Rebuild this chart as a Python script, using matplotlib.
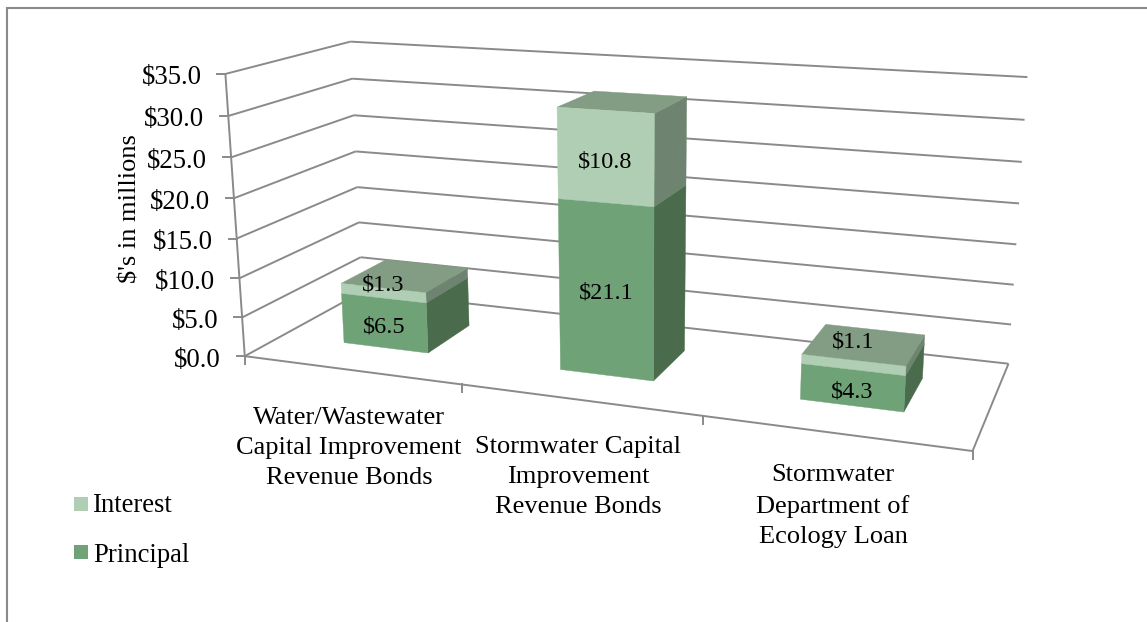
import numpy as np
import matplotlib
matplotlib.use("Agg")
import matplotlib.pyplot as plt
from matplotlib.patches import Polygon, Rectangle

plt.rcParams['font.family'] = ['Liberation Serif', 'DejaVu Serif']

categories = ["Water/Wastewater\nCapital Improvement\nRevenue Bonds",
              "Stormwater Capital\nImprovement\nRevenue Bonds",
              "Stormwater\nDepartment of\nEcology Loan"]
principal = [6.5, 21.1, 4.3]
interest = [1.3, 10.8, 1.1]
y_ticks = [0, 5, 10, 15, 20, 25, 30, 35]

GREY = '#8a8a8a'
PRINCIPAL = {'front': '#6fa377', 'side': '#4a6b4c', 'top': '#5f8a64'}
INTEREST = {'front': '#b0ceb3', 'side': '#6e8370', 'top': '#839c84'}

# pixel positions of the chart box corners, used to work out the perspective
world = [(0, 0, 0), (0, 0, 35), (3, 0, 0),
         (0, 1, 35), (0, 1, 30), (0, 1, 25), (0, 1, 20), (0, 1, 15), (0, 1, 10), (0, 1, 5), (0, 1, 0),
         (3, 1, 35), (3, 1, 30), (3, 1, 25), (3, 1, 20), (3, 1, 15), (3, 1, 10), (3, 1, 5), (3, 1, 0)]
pixels = [(244.7, 356), (225.7, 73.5), (972.3, 451.7),
          (350, 41.7), (351.7, 78.7), (354, 115.3), (356, 151.7), (357.3, 187), (359.3, 222.3),
          (360.7, 257.3), (362, 292),
          (1027.3, 77.3), (1024.5, 120), (1022, 162), (1019, 203.5), (1016.5, 244), (1014, 284.3),
          (1011, 324), (1008.3, 363.7)]


def fit_camera(world, pixels):
    rows, rhs = [], []
    for (x, y, z), (u, v) in zip(world, pixels):
        rows.append([x, y, z, 1, 0, 0, 0, 0, -u * x, -u * y, -u * z])
        rows.append([0, 0, 0, 0, x, y, z, 1, -v * x, -v * y, -v * z])
        rhs += [u, v]
    sol = np.linalg.lstsq(np.array(rows, dtype=float), np.array(rhs, dtype=float), rcond=None)[0]
    return np.append(sol, 1).reshape(3, 4)


CAM = fit_camera(world, pixels)


def project(x, y, z):
    p = CAM @ np.array([x, y, z, 1.0])
    return p[0] / p[2], p[1] / p[2]


def line3d(ax, a, b, **kw):
    pa, pb = project(*a), project(*b)
    ax.plot([pa[0], pb[0]], [pa[1], pb[1]], color=GREY, lw=1.4, solid_capstyle='butt', **kw)


def box(ax, x0, x1, y0, y1, z0, z1, colors, zorder):
    faces = {
        'side': [(x1, y0, z0), (x1, y1, z0), (x1, y1, z1), (x1, y0, z1)],
        'top': [(x0, y0, z1), (x1, y0, z1), (x1, y1, z1), (x0, y1, z1)],
        'front': [(x0, y0, z0), (x1, y0, z0), (x1, y0, z1), (x0, y0, z1)],
    }
    for name, pts in faces.items():
        ax.add_patch(Polygon([project(*p) for p in pts], closed=True, fc=colors[name],
                             ec=colors[name], lw=0.3, zorder=zorder))


fig = plt.figure(figsize=(11.47, 6.22), dpi=100)
ax = fig.add_axes([0, 0, 1, 1])
ax.set_xlim(0, 1147)
ax.set_ylim(622, 0)
ax.axis('off')

# chart border, only the left and top edges fall inside the picture
ax.plot([6.5, 6.5, 1147], [622, 7.5, 7.5], color=GREY, lw=1.5, solid_joinstyle='miter')

# walls and floor
for t in y_ticks:
    line3d(ax, (0, 0, t), (0, 1, t))
    line3d(ax, (0, 1, t), (3, 1, t))
    tx, ty = project(0, 0, t)
    ax.plot([tx - 8, tx], [ty, ty], color=GREY, lw=1.4)
    ax.text(tx - 24, ty + 4, f'${t:.1f}', ha='right', va='center', fontsize=19.3)
line3d(ax, (0, 0, 0), (0, 0, 35))
line3d(ax, (0, 0, 0), (3, 0, 0))
line3d(ax, (3, 0, 0), (3, 1, 0))
for i in range(4):
    tx, ty = project(i, 0, 0)
    ax.plot([tx, tx], [ty, ty + 8], color=GREY, lw=1.4)

# bars
label_nudge_principal = [4, 3, 4]
label_nudge_interest = [-8, 5, -23]
for i in range(len(categories)):
    x0, x1 = i + 0.3, i + 0.7
    y0, y1 = 0.3, 0.7
    p, q = principal[i], interest[i]
    box(ax, x0, x1, y0, y1, 0, p, PRINCIPAL, 3)
    box(ax, x0, x1, y0, y1, p, p + q, INTEREST, 4)
    px, py = project(i + 0.5, y0, p / 2)
    ax.text(px, py + label_nudge_principal[i], f'${p:.1f}', ha='center', va='center',
            fontsize=17.5, zorder=6)
    px, py = project(i + 0.5, y0, p + q / 2)
    ax.text(px, py + label_nudge_interest[i], f'${q:.1f}', ha='center', va='center',
            fontsize=17.5, zorder=6)

# category labels
cat_x = [349, 578, 833]
cat_y = [448, 477, 506]
for name, cx, cy in zip(categories, cat_x, cat_y):
    ax.text(cx, cy, name, ha='center', va='center', fontsize=19, linespacing=1.47)

ax.text(130, 209, "$'s in millions", rotation=90, ha='center', va='center', fontsize=19)

# legend
ax.add_patch(Rectangle((74, 497), 14, 14, fc=INTEREST['front'], ec='none'))
ax.text(93, 506, 'Interest', ha='left', va='center', fontsize=19.2)
ax.add_patch(Rectangle((74, 545), 14, 14, fc=PRINCIPAL['front'], ec='none'))
ax.text(93, 555, 'Principal', ha='left', va='center', fontsize=19.2)

fig.savefig('out.png', dpi=100)
